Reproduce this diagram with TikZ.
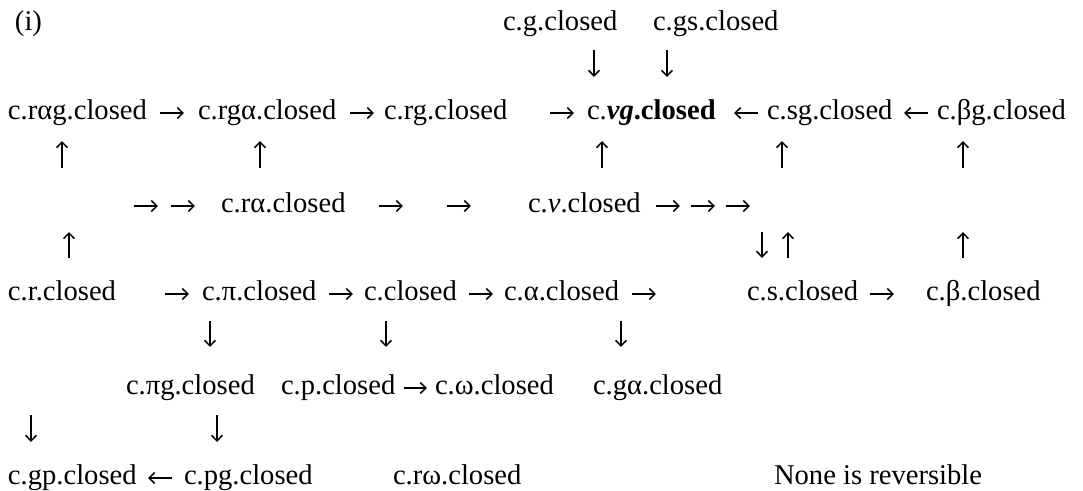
\documentclass[tikz,border=0pt]{standalone}
\usepackage{fontspec}
\setmainfont{Liberation Serif}
\usetikzlibrary{arrows.meta}
\begin{document}
\begin{tikzpicture}[x=0.5pt,y=-0.5pt,
  lbl/.style={anchor=base west,inner sep=0pt,outer sep=0pt,font=\fontsize{14.3}{17}\selectfont},
  arr/.style={line width=0.55pt,-{Straight Barb[length=2.8pt,width=5.4pt,line width=0.75pt]}}]
\useasboundingbox (0,0) rectangle (1083,491);
% row 0
\node[lbl] (i) at (15,31) {(i)};
\node[lbl] (cg) at (503,31) {c.g.closed};
\node[lbl] (cgs) at (653,31) {c.gs.closed};
% row 1
\draw[arr] (594,50) -- (594,77);
\draw[arr] (667,50) -- (667,77);
% row 2
\node[lbl] (cragg) at (8,120) {c.rαg.closed};
\draw[arr] (160,113) -- (184,113);
\node[lbl] (crga) at (198,120) {c.rgα.closed};
\draw[arr] (350,113) -- (374,113);
\node[lbl] (crg) at (384,120) {c.rg.closed};
\draw[arr] (550,113) -- (574,113);
\node[lbl] (cvg) at (587,120) {c.\textbf{\textit{vg}.closed}};
\draw[arr] (758,113) -- (734,113);
\node[lbl] (csg) at (767,120) {c.sg.closed};
\draw[arr] (928,113) -- (904,113);
\node[lbl] (cbg) at (937,120) {c.βg.closed};
% row 3
\foreach \x in {62,260,602,782,963} \draw[arr] (\x,168) -- (\x,141);
% row 4
\draw[arr] (134,206) -- (158,206);
\draw[arr] (171,206) -- (195,206);
\node[lbl] (cra) at (221,213) {c.rα.closed};
\draw[arr] (379,206) -- (403,206);
\draw[arr] (447,206) -- (471,206);
\node[lbl] (cv) at (528,213) {c.\textit{v}.closed};
\draw[arr] (656,206) -- (680,206);
\draw[arr] (691,206) -- (715,206);
\draw[arr] (726,206) -- (750,206);
% row 5
\draw[arr] (69,258) -- (69,232);
\draw[arr] (762,232) -- (762,258);
\draw[arr] (788,258) -- (788,232);
\draw[arr] (963,258) -- (963,232);
% row 6
\node[lbl] (cr) at (8,301) {c.r.closed};
\draw[arr] (165,294) -- (189,294);
\node[lbl] (cpi) at (202,301) {c.π.closed};
\draw[arr] (329,294) -- (353,294);
\node[lbl] (cc) at (364,301) {c.closed};
\draw[arr] (469,294) -- (493,294);
\node[lbl] (ca) at (504,301) {c.α.closed};
\draw[arr] (632,294) -- (656,294);
\node[lbl] (cs) at (747,301) {c.s.closed};
\draw[arr] (870,294) -- (894,294);
\node[lbl] (cb) at (926,301) {c.β.closed};
% row 7
\foreach \x in {210,386,621} \draw[arr] (\x,321) -- (\x,347);
% row 8
\node[lbl] (cpig) at (126,395) {c.πg.closed};
\node[lbl] (cp) at (281,395) {c.p.closed};
\draw[arr] (404,388) -- (427,388);
\node[lbl] (cw) at (435,395) {c.ω.closed};
\node[lbl] (cga) at (593,395) {c.gα.closed};
% row 9
\foreach \x in {31,217} \draw[arr] (\x,415) -- (\x,442);
% row 10
\node[lbl] (cgp) at (8,485) {c.gp.closed};
\draw[arr] (172,478) -- (148,478);
\node[lbl] (cpg) at (184,485) {c.pg.closed};
\node[lbl] (crw) at (393,485) {c.rω.closed};
\node[lbl] (none) at (774,485) {None is reversible};
\end{tikzpicture}
\end{document}
